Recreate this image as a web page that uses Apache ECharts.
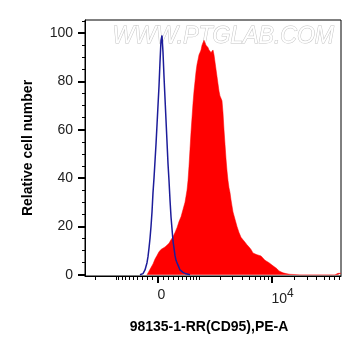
<!DOCTYPE html>
<html>
<head>
<meta charset="utf-8">
<script src="https://cdn.jsdelivr.net/npm/echarts@6/dist/echarts.min.js"></script>
<style>
    html, body { margin: 0; padding: 0; background: #fff; }
    #chart { width: 361px; height: 356px; }
</style>
</head>
<body>
<div id="chart"></div>
<script>
// ============================
// Datos (canal de pantalla 0-256, conteo relativo)
// ============================
var redChannel = [62, 64, 66, 68, 70, 72, 74, 76, 78, 80, 82, 84, 86, 88, 90, 92, 94, 96, 98, 100,
    102, 103, 104, 105, 106, 107, 108, 109, 110, 111, 112, 113, 114, 115, 116, 117, 118, 119, 120, 121,
    122, 123, 124, 125, 126, 127, 128, 129, 130, 131, 132, 133, 134, 135, 136, 137, 138, 139, 140, 141,
    142, 143, 144, 145, 146, 147, 148, 150, 152, 154, 156, 158, 160, 162, 164, 166, 168, 170, 172, 174,
    176, 178, 180, 182, 184, 186, 188, 190, 192, 194, 196, 198, 200, 202, 205, 210, 215, 250, 253, 256];
var redCount = [0, 1.5, 3, 4.5, 6.5, 8, 9.5, 10.5, 11, 11.5, 12, 13, 14.5, 15.7, 17.5, 19.5, 22, 24, 27, 30,
    35, 39, 45, 52, 59, 65, 71, 76, 80, 84, 87, 89, 91, 92, 93, 95, 96, 97, 96, 95,
    95, 94, 93, 93, 92, 92, 93, 91, 88, 85, 82, 79, 76, 74, 73, 72, 67, 60, 54, 48,
    43, 39, 36, 34, 31, 28.5, 26, 23, 20, 17.5, 15.5, 14.5, 13.5, 12.4, 11.5, 10.5, 9, 8.5, 8.3, 8.3,
    7.8, 7, 6, 5.4, 5, 4.5, 3.7, 3, 2.5, 1.6, 1.2, 0.8, 0.5, 0.4, 0.2, 0.1, 0, 0, 0.6, 0.6];

var blueChannel = [55, 58, 60, 62, 63, 64, 65, 66, 67, 68, 69, 70, 71, 72, 73, 74, 75, 76, 77, 78,
    79, 80, 81, 82, 83, 84, 85, 86, 87, 88, 89, 90, 91, 92, 93, 95, 98, 101, 105];
var blueCount = [0, 0.5, 2, 5, 7.5, 11, 15, 20, 26, 34, 40, 47, 54, 62, 70, 78, 88, 97, 99, 92,
    82, 73, 64, 55, 46, 39, 31, 24, 19, 14, 11, 8, 6, 5, 4, 2, 1, 0.4, 0];

// Etiquetas y marcas de los ejes
var yLabelValues = [0, 20, 40, 60, 80, 100];
var xLabelValues = [0, 10000];
var xLabelTexts = ["{b|0}", "{b|10}{sup|4}"];

// ============================
// Escala biexponencial (aprox. asinh)
// ============================
var ZERO_CH = 72.5, DECADE_K = 32.5, LIN_W = 600;
function toChannel(v) {
    return ZERO_CH + DECADE_K * Math.asinh(v / LIN_W);
}

var minorXVals = [];
[100, 1000, 10000].forEach(function (step) {
    for (var k = 1; k <= 9; k++) {
        minorXVals.push(k * step);
        if (step < 10000) minorXVals.push(-k * step);
    }
});
var minorXTicks = minorXVals.map(toChannel).filter(c => c >= 0 && c <= 256);
var majorXTicks = xLabelValues.map(toChannel);

var minorYTicks = [];
for (var v = 0; v <= 105; v += 5) minorYTicks.push(v);

var FONT = "'Liberation Sans', Arial, sans-serif";

var chart = echarts.init(document.getElementById("chart"));
chart.setOption({
    animation: false,
    textStyle: { fontFamily: FONT },
    grid: {
        left: 85, right: 20, top: 20, bottom: 80,
        show: true, borderColor: "#000", borderWidth: 1, backgroundColor: "transparent"
    },
    graphic: [{
        type: "text",
        left: 112, top: 25, z: 0,
        style: {
            text: "WWW.PTGLAB.COM",
            font: "italic 23px " + FONT,
            fill: "#fff",
            stroke: "#c4c4c4",
            lineWidth: 1
        }
    }],
    xAxis: [
        {
            type: "value", min: 0, max: 256, position: "bottom",
            axisLine: { show: true, onZero: false, lineStyle: { color: "#000", width: 1 } },
            axisTick: { show: true, customValues: minorXTicks, length: 4, lineStyle: { color: "#000" } },
            axisLabel: { show: false },
            splitLine: { show: false },
            name: "98135-1-RR(CD95),PE-A",
            nameLocation: "middle",
            nameGap: 44,
            nameTextStyle: { fontSize: 14, fontWeight: "bold", color: "#000", fontFamily: FONT, padding: [0, 8, 0, 0] }
        },
        {
            type: "value", min: 0, max: 256, position: "bottom",
            axisLine: { show: false, onZero: false },
            axisTick: { show: true, customValues: majorXTicks, length: 7, lineStyle: { color: "#000", width: 2 } },
            axisLabel: {
                customValues: majorXTicks,
                align: "left",
                margin: 12,
                formatter: function (val) {
                    var i = majorXTicks.findIndex(c => Math.abs(c - val) < 1e-6);
                    return i >= 0 ? xLabelTexts[i] : "";
                },
                rich: {
                    b: { fontSize: 14, color: "#222", fontFamily: FONT },
                    sup: { fontSize: 12, color: "#222", fontFamily: FONT, padding: [0, 0, 10, 0] }
                }
            },
            splitLine: { show: false }
        }
    ],
    yAxis: [
        {
            type: "value", min: -0.5, max: 105.4, position: "left",
            axisLine: { show: true, onZero: false, lineStyle: { color: "#000", width: 1 } },
            axisTick: { show: true, customValues: minorYTicks, length: 3, lineStyle: { color: "#000" } },
            axisLabel: { show: false },
            splitLine: { show: false },
            name: "Relative cell number",
            nameLocation: "middle",
            nameGap: 50,
            nameTextStyle: { fontSize: 14, fontWeight: "bold", color: "#000", fontFamily: FONT }
        },
        {
            type: "value", min: -0.5, max: 105.4, position: "left",
            axisLine: { show: false, onZero: false },
            axisTick: { show: true, customValues: yLabelValues, length: 7, lineStyle: { color: "#000", width: 2 } },
            axisLabel: { customValues: yLabelValues, fontSize: 14, color: "#222", margin: 12, fontFamily: FONT },
            splitLine: { show: false }
        }
    ],
    series: [
        {
            name: "CD95",
            type: "line",
            xAxisIndex: 0, yAxisIndex: 0,
            symbol: "none",
            z: 2,
            lineStyle: { color: "#ff0000", width: 0.5 },
            areaStyle: { color: "#ff0000", opacity: 1 },
            data: redChannel.map((c, i) => [c, redCount[i]])
        },
        {
            name: "Control",
            type: "line",
            xAxisIndex: 0, yAxisIndex: 0,
            symbol: "none",
            z: 3,
            lineStyle: { color: "#1c1c9a", width: 1.5 },
            data: blueChannel.map((c, i) => [c, blueCount[i]])
        }
    ]
});
</script>
</body>
</html>
